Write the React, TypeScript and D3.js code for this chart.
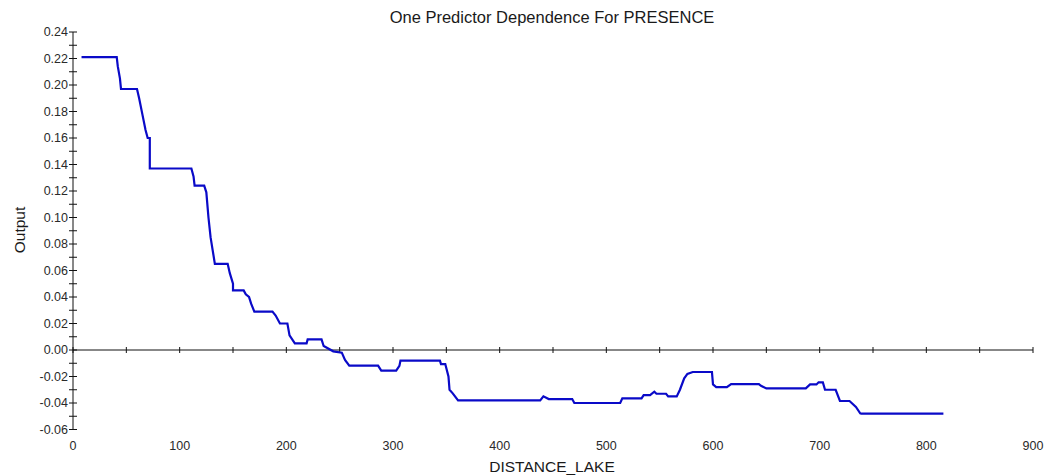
import * as d3 from "d3";

// partial dependence curve
const distance = [
  8, 41, 42, 44, 45, 60, 62, 65, 68, 70, 72, 72, 111, 113, 114, 123, 125, 127,
  129, 131, 133, 145, 147, 150, 150, 160, 162, 165, 167, 170, 187, 190, 194,
  201, 203, 208, 219, 220, 233, 235, 244, 252, 255, 259, 286, 289, 303, 306,
  307, 344, 345, 349, 352, 353, 356, 361, 438, 441, 446, 468, 470, 513, 515,
  533, 535, 541, 545, 547, 556, 558, 566, 569, 573, 576, 581, 599, 600, 603,
  613, 617, 643, 645, 650, 687, 691, 697, 699, 703, 705, 715, 719, 728, 734,
  738, 739, 816,
];
const output = [
  0.221, 0.221, 0.214, 0.205, 0.197, 0.197, 0.19, 0.178, 0.166, 0.16, 0.16,
  0.137, 0.137, 0.131, 0.124, 0.124, 0.119, 0.1, 0.085, 0.075, 0.065, 0.065,
  0.058, 0.05, 0.045, 0.045, 0.042, 0.04, 0.035, 0.029, 0.029, 0.026, 0.02,
  0.02, 0.011, 0.005, 0.005, 0.008, 0.008, 0.003, -0.001, -0.002, -0.0075,
  -0.0118, -0.0118, -0.0156, -0.0156, -0.012, -0.008, -0.008, -0.0106,
  -0.0106, -0.02, -0.03, -0.0327, -0.038, -0.038, -0.035, -0.037, -0.037,
  -0.04, -0.04, -0.0365, -0.0365, -0.034, -0.034, -0.0315, -0.033, -0.033,
  -0.035, -0.035, -0.03, -0.0214, -0.018, -0.0166, -0.0166, -0.026, -0.028,
  -0.028, -0.0257, -0.0257, -0.027, -0.029, -0.029, -0.026, -0.026, -0.0244,
  -0.0244, -0.03, -0.03, -0.0385, -0.0385, -0.043, -0.0478, -0.048, -0.048,
];

const xTicks = [0, 100, 200, 300, 400, 500, 600, 700, 800, 900];
const yTicks = [
  -0.06, -0.04, -0.02, 0, 0.02, 0.04, 0.06, 0.08, 0.1, 0.12, 0.14, 0.16, 0.18,
  0.2, 0.22, 0.24,
];

const title = "One Predictor Dependence For PRESENCE";
const xTitle = "DISTANCE_LAKE";
const yTitle = "Output";

const width = 1054;
const height = 475;
const font = "'Liberation Sans', Arial, sans-serif";

export default function App() {
  const x = d3.scaleLinear([0, 900], [73, 1033]);
  const y = d3.scaleLinear([-0.06, 0.24], [429.5, 32]);
  const line = d3
    .line<number>()
    .x((d) => x(d))
    .y((_, i) => y(output[i]));

  const xMinor = d3.range(0, 901, 50);
  const yMinor = d3.range(-6, 25).map((v) => v / 100);

  return (
    <svg
      width={width}
      height={height}
      style={{ position: "absolute", left: 0, top: 0, background: "#fff" }}
      fontFamily={font}
    >
      <text x={552} y={23} textAnchor="middle" fontSize={16.5} fill="#1a1a1a">
        {title}
      </text>

      {/* y axis */}
      <g stroke="#111" strokeWidth={1}>
        <line x1={x(0)} x2={x(0)} y1={y(0.24)} y2={y(-0.06)} />
        {yMinor.map((v) => (
          <line key={v} x1={x(0) - 4} x2={x(0) + 4} y1={y(v)} y2={y(v)} />
        ))}
      </g>
      <g fontSize={12.5} fill="#2a2a2a" textAnchor="end">
        {yTicks.map((v) => (
          <text key={v} x={x(0) - 5} y={y(v) + 4}>
            {v.toFixed(2)}
          </text>
        ))}
      </g>

      {/* x axis at zero */}
      <g stroke="#111" strokeWidth={1}>
        <line x1={x(0)} x2={x(900)} y1={y(0)} y2={y(0)} />
        {xMinor.map((v) => (
          <line key={v} x1={x(v)} x2={x(v)} y1={y(0) - 3} y2={y(0) + 3} />
        ))}
      </g>
      <g fontSize={12.5} fill="#2a2a2a" textAnchor="middle">
        {xTicks.map((v) => (
          <text key={v} x={x(v)} y={450}>
            {v}
          </text>
        ))}
      </g>

      <text x={552} y={472} textAnchor="middle" fontSize={15.5} fill="#1a1a1a">
        {xTitle}
      </text>
      <text
        transform="translate(25,230) rotate(-90)"
        textAnchor="middle"
        fontSize={15.5}
        fill="#1a1a1a"
      >
        {yTitle}
      </text>

      <path
        d={line(distance) || undefined}
        fill="none"
        stroke="#0a0ac8"
        strokeWidth={2.2}
      />
    </svg>
  );
}
